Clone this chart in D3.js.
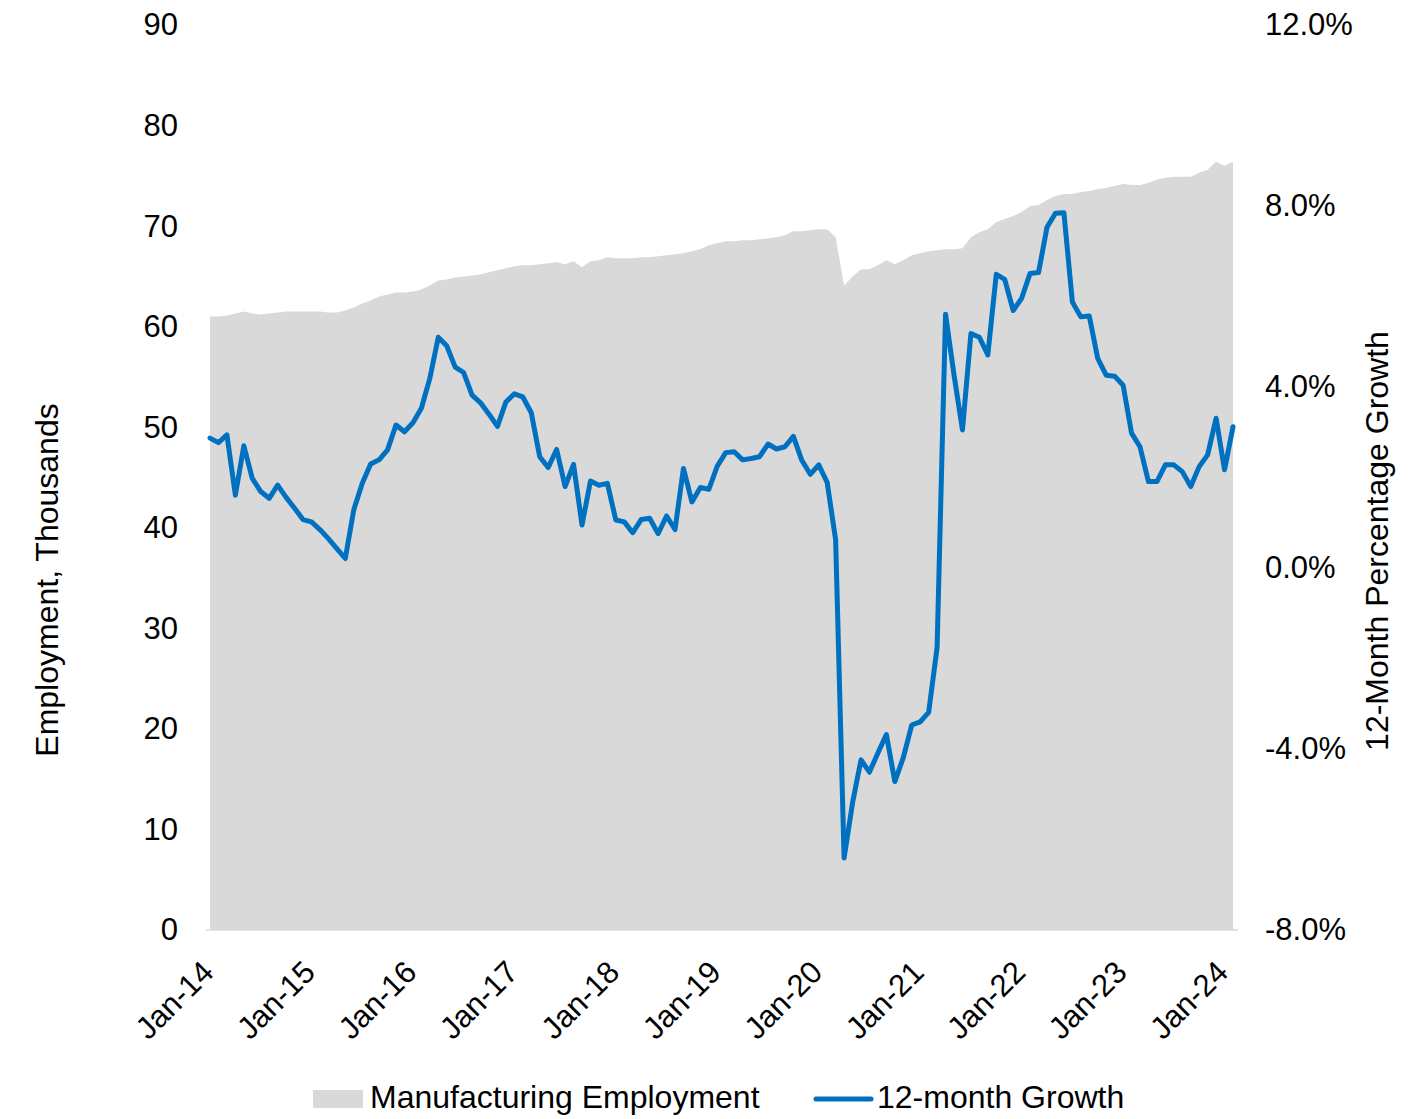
<!DOCTYPE html>
<html>
<head>
<meta charset="utf-8">
<script src="https://cdn.jsdelivr.net/npm/d3@7"></script>
<style>
  html, body { margin: 0; padding: 0; background: #ffffff; }
  svg { display: block; font-family: "Liberation Sans", Arial, sans-serif; }
</style>
</head>
<body>
<svg id="chart" width="1421" height="1119"></svg>
<script>
// Monthly categories, Jan-2014 through Feb-2024
const months = d3.timeMonth.range(new Date(2014, 0, 1), new Date(2024, 2, 1));

// Manufacturing employment, thousands
const employment = [
  61.0, 61.0, 61.1, 61.3, 61.5, 61.3, 61.2, 61.3, 61.4, 61.5, 61.5, 61.5,
  61.5, 61.5, 61.4, 61.4, 61.6, 61.9, 62.3, 62.6, 63.0, 63.2, 63.4, 63.4,
  63.5, 63.7, 64.1, 64.6, 64.7, 64.9, 65.0, 65.1, 65.2, 65.4, 65.6, 65.8,
  66.0, 66.1, 66.1, 66.2, 66.3, 66.4, 66.2, 66.5, 65.9, 66.5, 66.6, 66.9,
  66.8, 66.8, 66.8, 66.9, 66.9, 67.0, 67.1, 67.2, 67.3, 67.5, 67.7, 68.1,
  68.3, 68.5, 68.5, 68.6, 68.6, 68.7, 68.8, 68.9, 69.1, 69.5, 69.5, 69.6,
  69.7, 69.7, 68.9, 64.1, 65.0, 65.7, 65.7, 66.1, 66.6, 66.2, 66.6, 67.1,
  67.3, 67.5, 67.6, 67.7, 67.7, 67.8, 68.9, 69.4, 69.7, 70.4, 70.7, 71.0,
  71.4, 72.0, 72.1, 72.6, 73.0, 73.2, 73.2, 73.4, 73.5, 73.7, 73.8, 74.0,
  74.2, 74.1, 74.1, 74.3, 74.6, 74.8, 74.9, 74.9, 74.9, 75.3, 75.6, 76.4,
  76.0, 76.4
];

// 12-month percentage growth of employment
const growth = [
  2.87, 2.77, 2.94, 1.61, 2.70, 1.98, 1.69, 1.54, 1.83, 1.56, 1.32, 1.07,
  1.02, 0.85, 0.65, 0.43, 0.21, 1.28, 1.87, 2.30, 2.39, 2.61, 3.16, 3.01,
  3.21, 3.53, 4.19, 5.10, 4.91, 4.44, 4.32, 3.82, 3.65, 3.40, 3.13, 3.67,
  3.85, 3.78, 3.43, 2.46, 2.22, 2.62, 1.80, 2.29, 0.95, 1.92, 1.83, 1.87,
  1.06, 1.02, 0.78, 1.07, 1.10, 0.76, 1.15, 0.85, 2.20, 1.46, 1.78, 1.74,
  2.25, 2.55, 2.57, 2.39, 2.42, 2.46, 2.74, 2.63, 2.68, 2.91, 2.38, 2.07,
  2.28, 1.89, 0.62, -6.41, -5.19, -4.24, -4.51, -4.09, -3.68, -4.72, -4.19, -3.47,
  -3.40, -3.19, -1.76, 5.61, 4.27, 3.05, 5.18, 5.10, 4.71, 6.49, 6.38, 5.69,
  5.96, 6.51, 6.53, 7.53, 7.84, 7.85, 5.88, 5.55, 5.57, 4.63, 4.26, 4.24,
  4.04, 2.98, 2.68, 1.91, 1.91, 2.28, 2.28, 2.13, 1.80, 2.24, 2.50, 3.31,
  2.17, 3.12
];

// Axis labels
const xTickLabels = ["Jan-14", "Jan-15", "Jan-16", "Jan-17", "Jan-18", "Jan-19",
                     "Jan-20", "Jan-21", "Jan-22", "Jan-23", "Jan-24"];
const leftTicks = [0, 10, 20, 30, 40, 50, 60, 70, 80, 90];
const rightTicks = [-8, -4, 0, 4, 8, 12];

const seriesNames = ["Manufacturing Employment", "12-month Growth"];
const leftTitle = "Employment, Thousands";
const rightTitle = "12-Month Percentage Growth";

// ---- drawing ----
const svg = d3.select("#chart");
const FONT = 31;
const FONT_LG = 32;
const GRAY = "#d9d9d9";
const BLUE = "#0070c0";

const x = d3.scaleLinear().domain([0, months.length - 1]).range([210, 1233]);
const yL = d3.scaleLinear().domain([0, 90]).range([930, 25]);
const yR = d3.scaleLinear().domain([-8, 12]).range([930, 25]);

// employment area
svg.append("path")
  .datum(employment)
  .attr("fill", GRAY)
  .attr("d", d3.area()
    .x((d, i) => x(i))
    .y0(yL(0))
    .y1(d => yL(d)));

// horizontal axis line
svg.append("line")
  .attr("x1", 206).attr("x2", 1238)
  .attr("y1", yL(0)).attr("y2", yL(0))
  .attr("stroke", GRAY).attr("stroke-width", 1.5);

// growth line
svg.append("path")
  .datum(growth)
  .attr("fill", "none")
  .attr("stroke", BLUE)
  .attr("stroke-width", 5)
  .attr("stroke-linejoin", "round")
  .attr("stroke-linecap", "round")
  .attr("d", d3.line()
    .x((d, i) => x(i))
    .y(d => yR(d)));

// left axis
const gL = svg.append("g")
  .attr("transform", "translate(178,0)")
  .call(d3.axisLeft(yL).tickValues(leftTicks).tickSize(0).tickPadding(0).tickFormat(d3.format("d")));
gL.select(".domain").remove();
gL.selectAll("text").attr("font-size", FONT).attr("font-family", null).attr("fill", "#000");

// right axis (plain hyphen for negatives)
const pct = d => d.toFixed(1) + "%";
const gR = svg.append("g")
  .attr("transform", "translate(1265,0)")
  .call(d3.axisRight(yR).tickValues(rightTicks).tickSize(0).tickPadding(0).tickFormat(pct));
gR.select(".domain").remove();
gR.selectAll("text").attr("font-size", FONT).attr("font-family", null).attr("fill", "#000");

// bottom axis with rotated labels
const xTickIdx = xTickLabels.map((_, k) => k * 12);
const gB = svg.append("g")
  .attr("transform", `translate(0,${yL(0)})`)
  .call(d3.axisBottom(x).tickValues(xTickIdx).tickSize(0)
    .tickFormat((d, k) => xTickLabels[k]));
gB.select(".domain").remove();
gB.selectAll("text")
  .attr("font-size", FONT).attr("font-family", null).attr("fill", "#000")
  .attr("text-anchor", "end")
  .attr("x", 5).attr("y", 44).attr("dy", 0)
  .attr("transform", "rotate(-45,5,44)");

// axis titles
svg.append("text")
  .attr("transform", "translate(58,580) rotate(-90)")
  .attr("text-anchor", "middle")
  .attr("font-size", FONT_LG)
  .text(leftTitle);

svg.append("text")
  .attr("transform", "translate(1388,541) rotate(-90)")
  .attr("text-anchor", "middle")
  .attr("font-size", FONT_LG)
  .text(rightTitle);

// legend
const lg = svg.append("g");
lg.append("rect").attr("x", 313).attr("y", 1090).attr("width", 50).attr("height", 18).attr("fill", GRAY);
lg.append("text").attr("x", 370).attr("y", 1108).attr("font-size", FONT_LG).text(seriesNames[0]);
lg.append("line").attr("x1", 816).attr("x2", 871).attr("y1", 1099).attr("y2", 1099)
  .attr("stroke", BLUE).attr("stroke-width", 5).attr("stroke-linecap", "round");
lg.append("text").attr("x", 877).attr("y", 1108).attr("font-size", FONT_LG).text(seriesNames[1]);
</script>
</body>
</html>
